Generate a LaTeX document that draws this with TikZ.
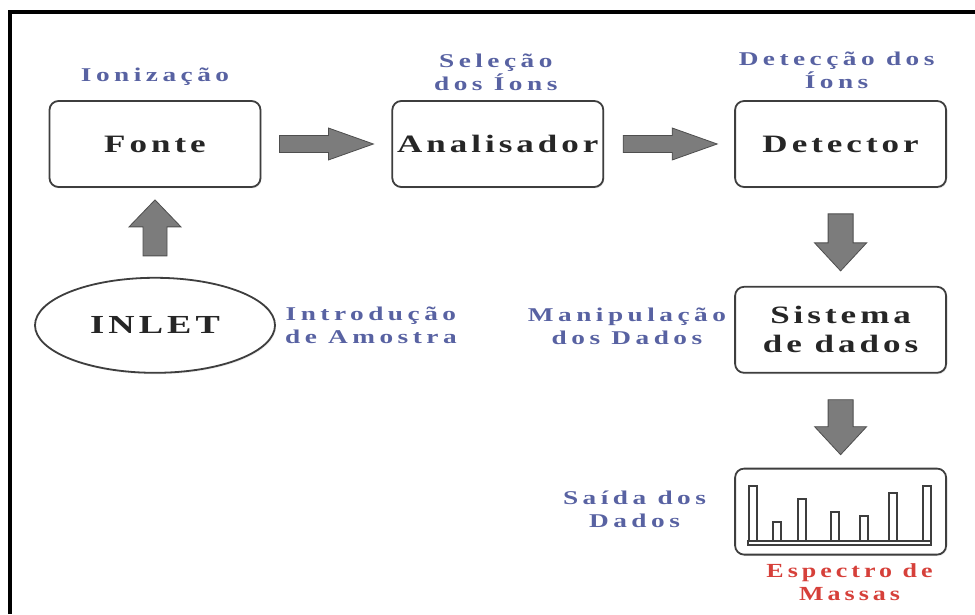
\documentclass[tikz,border=0pt]{standalone}
\usepackage{fontspec}
\setmainfont{Liberation Serif}
\newfontfamily\msfont{Liberation Serif}[UprightFont={* Bold}, FakeStretch=1.4, LetterSpace=16]
\newfontfamily\mslabelfont{Liberation Serif}[UprightFont={* Bold}, FakeStretch=1.4, LetterSpace=23]
\newfontfamily\msredfont{Liberation Serif}[UprightFont={* Bold}, FakeStretch=1.3, LetterSpace=20]
\usepackage{tikz}
\usetikzlibrary{positioning, calc, shadows, shapes.geometric}
\definecolor{labelblue}{RGB}{88,98,162}
\definecolor{specred}{RGB}{214,64,58}
\definecolor{boxline}{RGB}{62,62,62}
\definecolor{arrowgray}{RGB}{124,124,124}
\definecolor{arrowline}{RGB}{78,78,78}
\tikzset{
    msblock/.style={rectangle, draw=boxline, fill=white, rounded corners=9pt, minimum width=211pt, minimum height=86pt, align=center, line width=1.8pt, font=\msfont\fontsize{25}{29}\selectfont, text=black!85, drop shadow={opacity=0.15, shadow xshift=1pt, shadow yshift=-1.5pt}},
    msinlet/.style={ellipse, draw=boxline, fill=white, minimum width=240pt, minimum height=95pt, line width=1.8pt, font=\msfont\fontsize{26}{29}\selectfont, text=black!85, drop shadow={opacity=0.15, shadow xshift=1pt, shadow yshift=-1.5pt}},
    mslabel/.style={font=\mslabelfont\fontsize{19.5}{23}\selectfont, text=labelblue, align=center, inner sep=0pt},
    msout/.style={font=\msredfont\fontsize{20}{23}\selectfont, text=specred, align=center, inner sep=0pt},
    msarrow/.style={fill=arrowgray, draw=arrowline, line width=0.8pt, line join=miter},
    specbar/.style={draw=boxline, fill=white, line width=1.8pt},
    frameline/.style={line width=4.5pt, black}
}
% #1 half shaft, #2 half head, #3 head length, #4 tail, #5 tip
\newcommand\flowarrow[5]{%
    \path (#4) coordinate (fa-s) (#5) coordinate (fa-t);
    \path ($(fa-t)!#3!(fa-s)$) coordinate (fa-h);
    \filldraw[msarrow] ($(fa-s)!#1!90:(fa-t)$) -- ($(fa-h)!#1!90:(fa-t)$) -- ($(fa-h)!#2!90:(fa-t)$) -- (fa-t) -- ($(fa-h)!#2!-90:(fa-t)$) -- ($(fa-h)!#1!-90:(fa-t)$) -- ($(fa-s)!#1!-90:(fa-t)$) -- cycle;
}
\begin{document}
\begin{tikzpicture}[x=1pt, y=1pt]

\useasboundingbox (0,0) rectangle (975,614);
\draw[frameline] (10,0) |- (975,602);

\node[msblock] (fonte) at (155,470) {Fonte};
\node[msblock, right=130pt of fonte] (analisador) {Analisador};
\node[msblock, right=130pt of analisador] (detector) {Detector};
\node[msblock, below=98pt of detector] (sistema) {Sistema\\de dados};
\node[msblock, below=94pt of sistema] (espectro) {};
\node[msinlet, below=89pt of fonte] (inlet) {INLET};

\node[mslabel] (ioniz) at ([yshift=23pt]fonte.north) {Ionização};
\node[mslabel] (selecao) at ([xshift=-2pt,yshift=28pt]analisador.north) {Seleção\\dos Íons};
\node[mslabel] (deteccao) at ([xshift=-4pt,yshift=30pt]detector.north) {Detecção dos\\Íons};
\node[mslabel, right=9pt of inlet] (introd) {Introdução\\de Amostra};
\node[mslabel, left=8pt of sistema, yshift=3pt] (manip) {Manipulação\\dos Dados};
\node[mslabel, left=28pt of espectro, yshift=2pt] (saida) {Saída dos\\Dados};
\node[msout] (massas) at ([xshift=9pt,yshift=-27pt]espectro.south) {Espectro de\\Massas};

\begin{scope}[shift={(espectro.center)}]
\foreach \bx/\by in {-88/26, -64/-10, -39/13, -5.5/0, 23.5/-4, 52/19, 86/26}
    \draw[specbar] (\bx-4,-29) rectangle (\bx+4,\by);
\draw[specbar] (-92.5,-33) rectangle (90.5,-29);
\end{scope}

\flowarrow{8.5pt}{16pt}{45pt}{$(fonte.east)+(18,0)$}{$(analisador.west)+(-18,0)$}
\flowarrow{8.5pt}{16pt}{45pt}{$(analisador.east)+(19,0)$}{$(detector.west)+(-17,0)$}
\flowarrow{12pt}{26pt}{27pt}{$(inlet.north)+(0,21)$}{$(fonte.south)+(0,-12)$}
\flowarrow{12.5pt}{26pt}{28pt}{$(detector.south)+(0,-26)$}{$(sistema.north)+(0,15)$}
\flowarrow{12.5pt}{26pt}{28pt}{$(sistema.south)+(0,-26)$}{$(espectro.north)+(0,13)$}

\end{tikzpicture}
\end{document}
